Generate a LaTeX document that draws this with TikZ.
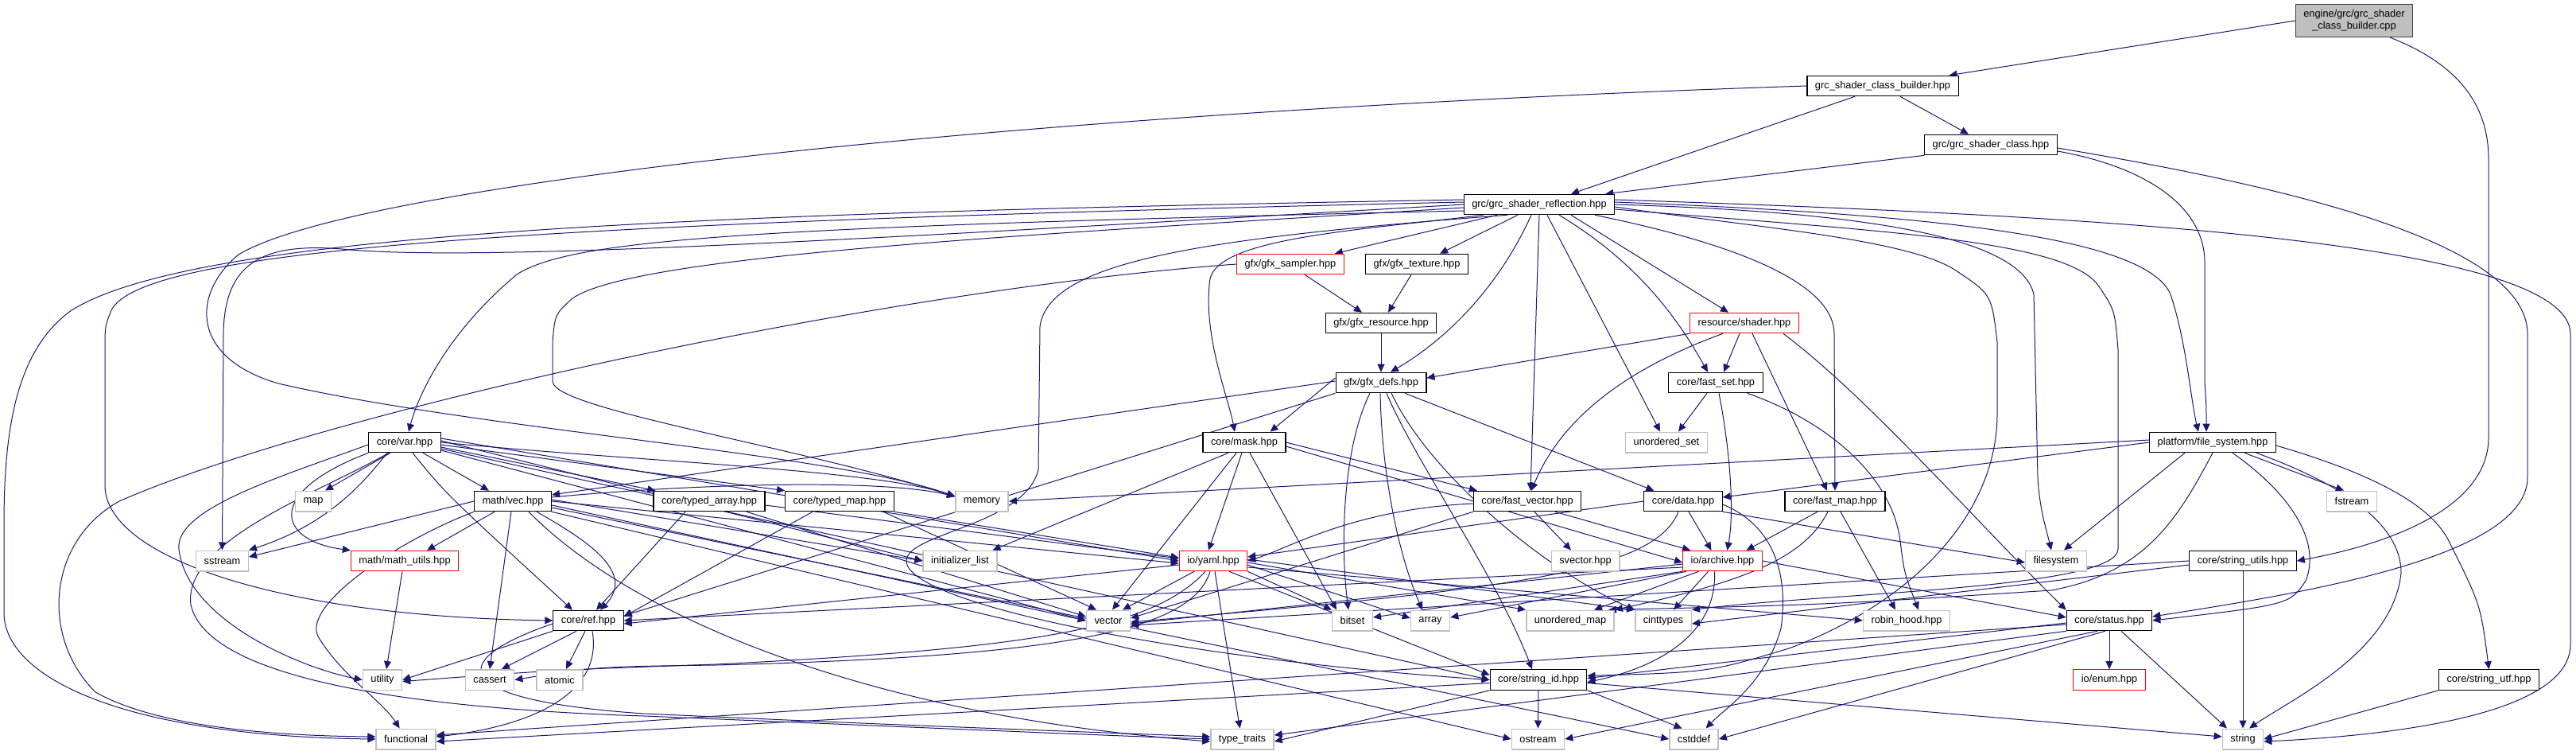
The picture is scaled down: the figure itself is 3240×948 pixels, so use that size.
\documentclass[tikz,border=0pt]{standalone}
\usepackage{fontspec}
\setmainfont{Liberation Sans}
\usetikzlibrary{arrows.meta,backgrounds}
\definecolor{edgec}{HTML}{191970}
\definecolor{greyN}{HTML}{BFBFBF}
\definecolor{truncC}{HTML}{FF0000}
\newcommand\dgfont{\fontsize{12.8}{15}\selectfont}
\begin{document}
\begin{tikzpicture}[x=1pt,y=-1pt,
 nd/.style={draw=black,line width=1.1pt,fill=white,inner xsep=10pt,inner ysep=0pt,minimum height=25.5pt,font=\dgfont},
 sys/.style={nd,draw=greyN,line width=1.5pt},
 trn/.style={nd,draw=truncC},
 e/.style={draw=edgec,line width=1pt,-{Triangle[length=10pt,width=9pt]}}]
\useasboundingbox (0,0) rectangle (3240,948);
% nodes
\node[nd,fill=greyN,draw=black!75,align=center,minimum height=41pt,inner ysep=2pt] (cpp) at (2961,26) {engine/grc/grc\_shader\\\_class\_builder.cpp};
\node[nd] (bhpp) at (2368,108) {grc\_shader\_class\_builder.hpp};
\node[nd] (chpp) at (2504,182) {grc/grc\_shader\_class.hpp};
\node[nd] (refl) at (1936,257) {grc/grc\_shader\_reflection.hpp};
\node[trn] (sampler) at (1623,332) {gfx/gfx\_sampler.hpp};
\node[nd] (texture) at (1782,332) {gfx/gfx\_texture.hpp};
\node[nd] (resource) at (1737,406) {gfx/gfx\_resource.hpp};
\node[trn] (shader) at (2194,406) {resource/shader.hpp};
\node[nd] (defs) at (1737,481) {gfx/gfx\_defs.hpp};
\node[nd] (fastset) at (2158,481) {core/fast\_set.hpp};
\node[nd] (var) at (509,556) {core/var.hpp};
\node[nd] (mask) at (1565,556) {core/mask.hpp};
\node[sys] (uset) at (2096,556) {unordered\_set};
\node[nd] (fs) at (2783,556) {platform/file\_system.hpp};
\node[sys] (map) at (394,630) {map};
\node[nd] (vec) at (645,630) {math/vec.hpp};
\node[nd] (tarr) at (892,630) {core/typed\_array.hpp};
\node[nd] (tmap) at (1056,630) {core/typed\_map.hpp};
\node[sys] (memory) at (1235,630) {memory};
\node[nd] (fvec) at (1921,630) {core/fast\_vector.hpp};
\node[nd] (data) at (2117,630) {core/data.hpp};
\node[nd] (fmap) at (2308,630) {core/fast\_map.hpp};
\node[sys] (fstream) at (2958,630) {fstream};
\node[sys] (sstream) at (279.5,705) {sstream};
\node[trn] (mutils) at (509,705) {math/math\_utils.hpp};
\node[sys] (initl) at (1207.5,705) {initializer\_list};
\node[trn] (yaml) at (1526,705) {io/yaml.hpp};
\node[sys] (svec) at (1994,705) {svector.hpp};
\node[trn] (archive) at (2166.5,705) {io/archive.hpp};
\node[sys] (filesystem) at (2586,705) {filesystem};
\node[nd] (sutils) at (2821,705) {core/string\_utils.hpp};
\node[nd] (ref) at (740,780) {core/ref.hpp};
\node[sys] (vector) at (1394,780) {vector};
\node[sys] (bitset) at (1701,780) {bitset};
\node[sys] (array) at (1799,780) {array};
\node[sys] (umap) at (1975,780) {unordered\_map};
\node[sys] (cinttypes) at (2092,780) {cinttypes};
\node[sys] (robin) at (2398,780) {robin\_hood.hpp};
\node[nd] (status) at (2653,780) {core/status.hpp};
\node[sys] (utility) at (481,854.5) {utility};
\node[sys] (cassert) at (616,854.5) {cassert};
\node[sys] (atomic) at (704,854.5) {atomic};
\node[nd] (sid) at (1935,854.5) {core/string\_id.hpp};
\node[trn] (enum) at (2653,854.5) {io/enum.hpp};
\node[nd] (sutf) at (3130.5,854.5) {core/string\_utf.hpp};
\node[sys] (functional) at (510.6,929) {functional};
\node[sys] (ttraits) at (1562.5,929) {type\_traits};
\node[sys] (ostream) at (1934.5,929) {ostream};
\node[sys] (cstddef) at (2130.5,929) {cstddef};
\node[sys] (string) at (2821,929) {string};
\begin{pgfonlayer}{background}
\fill[white] (0,0) rectangle (3240,948);
% top
\draw[e] (cpp.west) -- ([xshift=-12pt]bhpp.north east);
\draw[e] ([xshift=45pt]cpp.south) .. controls (3090,80) and (3130,130) .. (3130,200) -- (3130,550) .. controls (3130,640) and (3000,685) .. (sutils.east);
\draw[e] ([xshift=22pt]bhpp.south) -- ([xshift=-28pt]chpp.north);
\draw[e] ([xshift=-35pt]bhpp.south) -- ([xshift=40pt]refl.north);
\draw[e] (bhpp.west) .. controls (1300,140) and (450,230) .. (300,320) .. controls (240,370) and (240,450) .. (350,482) .. controls (600,540) and (1050,570) .. ([yshift=6pt]memory.west);
\draw[e] (chpp.south west) -- ([xshift=-12pt]refl.north east);
\draw[e] ([yshift=-8pt]chpp.east) .. controls (2700,210) and (2773,260) .. (2773,330) -- (2773,480) .. controls (2775,510) .. ([xshift=-8pt]fs.north);
\draw[e] ([yshift=-4pt]chpp.east) .. controls (2850,230) and (3179,300) .. (3179,420) -- (3179,600) .. controls (3179,700) and (2900,745) .. ([yshift=5pt]status.east);
% reflection
\draw[e] ([xshift=-53pt]refl.south) -- ([xshift=-12pt]sampler.north east);
\draw[e] ([xshift=-27pt]refl.south) -- ([xshift=29pt]texture.north);
\draw[e] ([xshift=-10pt]refl.south) .. controls (1890,350) and (1830,420) .. ([xshift=12pt]defs.north);
\draw[e] ([xshift=40pt]refl.south) -- ([xshift=-20pt]shader.north);
\draw[e] ([xshift=25pt]refl.south) .. controls (2060,330) and (2110,400) .. ([xshift=-10pt]fastset.north);
\draw[e] ([xshift=10pt]refl.south) -- ([xshift=-8pt]uset.north);
\draw[e] (refl.south) -- ([xshift=4pt]fvec.north);
\draw[e] ([xshift=70pt]refl.south) .. controls (2200,310) and (2307,360) .. (2307,420) -- (fmap.north);
\draw[e] ([xshift=-70pt]refl.south) .. controls (1700,290) and (1535,300) .. (1522,350) .. controls (1512,420) and (1545,500) .. ([xshift=-12pt]mask.north);
\draw[e] ([yshift=-8pt]refl.west) .. controls (950,285) and (720,300) .. (650,345) .. controls (560,420) and (525,500) .. ([xshift=5pt]var.north);
\draw[e] ([yshift=-4pt]refl.west) .. controls (1300,295) and (800,320) .. (720,375) .. controls (698,395) .. (695,430) -- (695,480) .. controls (700,515) and (1000,560) .. ([yshift=6pt]memory.west);
\draw[e] (refl.west) .. controls (1100,300) and (600,330) .. (430,313) .. controls (330,305) and (282,330) .. (281,420) -- (sstream.north);
\draw[e] ([yshift=3pt]refl.west) .. controls (700,280) and (180,310) .. (140,390) .. controls (132,410) .. (132,440) -- (132,610) .. controls (132,700) and (350,775) .. (ref.west);
\draw[e] ([yshift=6pt]refl.west) .. controls (900,268) and (250,290) .. (90,390) .. controls (20,440) and (5,540) .. (5,660) -- (5,770) .. controls (5,850) and (150,925) .. (functional.west);
\draw[e] ([xshift=-40pt]refl.south) .. controls (1500,300) and (1320,330) .. (1308,410) -- (1306,590) .. controls (1290,660) and (1140,670) .. (1140,705) .. controls (1140,760) and (1500,830) .. (sid.west);
\draw[e] ([yshift=3pt]refl.east) .. controls (2450,270) and (2700,300) .. (2730,370) .. controls (2750,430) and (2755,500) .. ([xshift=-18pt]fs.north);
\draw[e] (refl.east) .. controls (2300,265) and (2540,290) .. (2558,370) -- (2563,600) .. controls (2565,640) and (2575,670) .. ([xshift=-6pt]filesystem.north);
\draw[e] ([yshift=6pt]refl.east) .. controls (2600,270) and (3233,300) .. (3233,420) -- (3233,810) .. controls (3233,900) and (3000,925) .. ([yshift=-3pt]string.east);
\draw[e] ([yshift=-3pt]refl.east) .. controls (2200,285) and (2400,300) .. (2460,340) .. controls (2505,370) .. (2512,430) -- (2512,520) .. controls (2512,650) and (2400,760) .. (2250,815) .. controls (2150,845) .. ([yshift=5pt]sid.east);
\draw[e] ([yshift=-6pt]refl.east) .. controls (2350,290) and (2600,300) .. (2640,360) .. controls (2660,390) .. (2664,440) -- (2664,690) .. controls (2664,740) and (2300,745) .. (cinttypes.north east);
% gfx
\draw[e] ([xshift=18pt]sampler.south) -- ([xshift=-24pt]resource.north);
\draw[e] (sampler.west) .. controls (1100,365) and (400,520) .. (150,630) .. controls (60,680) and (50,800) .. (120,870) .. controls (200,915) and (350,925) .. ([yshift=3pt]functional.west);
\draw[e] ([xshift=-7pt]texture.south) -- ([xshift=9pt]resource.north);
\draw[e] (resource.south) -- (defs.north);
\draw[e] (shader.south west) -- ([yshift=6pt]defs.east);
\draw[e] ([xshift=-6pt]shader.south) -- ([xshift=10pt]fastset.north);
\draw[e] ([xshift=-27pt]shader.south) .. controls (2000,480) and (1950,560) .. ([xshift=5pt]fvec.north);
\draw[e] ([xshift=10pt]shader.south) -- ([xshift=-10pt]fmap.north);
\draw[e] ([xshift=-20pt]shader.south east) .. controls (2350,500) and (2480,650) .. (status.north west);
\draw[e] ([yshift=6pt]defs.west) -- ([xshift=-20pt]mask.north east);
\draw[e] ([yshift=2pt]defs.west) -- ([yshift=8pt]vec.east);
\draw[e] (defs.south west) -- ([yshift=6pt]ref.east);
\draw[e] ([xshift=30pt]defs.south) -- ([xshift=13pt]data.north west);
\draw[e] ([xshift=-14pt]defs.south) .. controls (1690,560) and (1685,680) .. ([xshift=-5pt]bitset.north);
\draw[e] ([xshift=-1pt]defs.south) .. controls (1738,600) and (1760,700) .. ([xshift=-10pt]array.north);
\draw[e] ([xshift=7pt]defs.south) .. controls (1780,580) and (1880,720) .. ([xshift=-8pt]sid.north);
\draw[e] ([xshift=13pt]defs.south) .. controls (1800,600) and (1950,720) .. (cinttypes.north west);
% fast set / map / vector / data
\draw[e] ([xshift=-11pt]fastset.south) -- ([xshift=15pt]uset.north);
\draw[e] ([xshift=4pt]fastset.south) .. controls (2175,560) and (2182,640) .. ([xshift=6pt]archive.north);
\draw[e] ([xshift=-20pt]fastset.south east) .. controls (2300,530) and (2380,600) .. (2390,680) .. controls (2395,720) .. ([xshift=15pt]robin.north);
\draw[e] ([xshift=-22pt]fmap.south) -- ([xshift=30pt]archive.north);
\draw[e] ([xshift=-9pt]fmap.south) .. controls (2270,700) and (2200,730) .. (umap.north east);
\draw[e] ([xshift=7pt]fmap.south) -- ([xshift=-14pt]robin.north);
\draw[e] ([xshift=9pt]fvec.south) -- ([xshift=-18pt]svec.north);
\draw[e] ([xshift=35pt]fvec.south) -- ([xshift=10pt]archive.north west);
\draw[e] ([yshift=-3pt]fvec.west) .. controls (1700,640) and (1620,690) .. (yaml.east);
\draw[e] (fvec.south west) -- ([yshift=3pt]vector.east);
\draw[e] (data.west) -- ([yshift=5pt]yaml.east);
\draw[e] ([xshift=7pt]data.south) -- ([xshift=-14pt]archive.north);
\draw[e] (data.south east) -- ([yshift=-2pt]filesystem.west);
\draw[e] ([xshift=-6pt]data.south) .. controls (2080,720) and (1900,740) .. ([yshift=-2pt]vector.east);
\draw[e] ([yshift=-4pt]data.east) .. controls (2230,660) and (2250,720) .. (2240,790) .. controls (2220,860) and (2170,890) .. ([xshift=15pt]cstddef.north);
% mask
\draw[e] ([xshift=-20pt]mask.south) -- ([xshift=-6pt]initl.north east);
\draw[e] ([xshift=-10pt]mask.south) -- ([xshift=5pt]vector.north);
\draw[e] ([xshift=-3pt]mask.south) -- ([xshift=-6pt]yaml.north);
\draw[e] ([xshift=7pt]mask.south) -- ([xshift=-20pt]bitset.north);
\draw[e] (mask.east) -- ([xshift=5pt]fvec.north west);
\draw[e] ([yshift=-5pt]mask.east) -- ([yshift=-2pt]archive.west);
% var
\draw[e] ([xshift=-18pt]var.south) -- ([xshift=15pt]map.north);
\draw[e] ([xshift=23pt]var.south) -- ([xshift=-30pt]vec.north);
\draw[e] ([yshift=-6pt]var.east) -- ([xshift=3pt]tarr.north west);
\draw[e] ([yshift=-3pt]var.east) -- (tmap.north west);
\draw[e] (var.east) .. controls (800,580) and (1100,590) .. ([yshift=6pt]memory.west);
\draw[e] ([xshift=-22pt]var.south) .. controls (455,610) and (410,660) .. (sstream.north east);
\draw[e] (var.south west) .. controls (330,620) and (350,680) .. (mutils.north west);
\draw[e] ([xshift=10pt]var.south) .. controls (560,620) .. ([xshift=-20pt]ref.north);
\draw[e] ([yshift=-8pt]var.east) -- (sid.west);
\draw[e] ([yshift=5pt]var.east) -- (yaml.west);
\draw[e] ([yshift=-10pt]var.east) -- (vector.west);
\draw[e] ([yshift=2pt]var.east) -- (initl.west);
\draw[e] ([yshift=-3pt]var.west) .. controls (350,600) and (220,640) .. (225,690) .. controls (235,780) and (380,840) .. (utility.west);
\draw[e] ([xshift=-20pt]var.south) .. controls (400,620) and (230,680) .. (240,760) .. controls (260,850) and (500,890) .. (810,900) .. controls (1100,912) and (1400,925) .. (ttraits.west);
% vec
\draw[e] (vec.west) -- ([yshift=5pt]sstream.east);
\draw[e] ([xshift=-23pt]vec.south) -- ([xshift=28pt]mutils.north);
\draw[e] ([xshift=-2pt]vec.south) -- (cassert.north);
\draw[e] (vec.south west) .. controls (500,680) and (380,760) .. (400,800) .. controls (430,850) and (480,880) .. ([xshift=-8pt]functional.north);
\draw[e] (vec.east) -- ([yshift=-3pt]yaml.west);
\draw[e] ([yshift=-5pt]vec.east) -- (vector.west);
\draw[e] ([yshift=2pt]vec.east) -- (initl.west);
\draw[e] ([yshift=5pt]vec.east) .. controls (850,610) and (1100,600) .. ([yshift=6pt]memory.west);
\draw[e] ([xshift=30pt]vec.south) .. controls (740,680) and (800,720) .. ([xshift=15pt]ref.north);
\draw[e] ([xshift=20pt]vec.south) .. controls (800,780) and (1100,900) .. ([yshift=-3pt]ttraits.west);
\draw[e] (vec.south east) -- (ostream.west);
\draw[e] ([yshift=-8pt]vec.east) -- (cstddef.west);
% typed
\draw[e] ([xshift=-30pt]tarr.south) -- ([xshift=10pt]ref.north);
\draw[e] ([yshift=-5pt]tarr.east) -- ([yshift=3pt]yaml.west);
\draw[e] ([xshift=47pt]tarr.south) -- ([yshift=5pt]vector.west);
\draw[e] ([xshift=-34pt]tmap.south) -- ([yshift=5pt]ref.east);
\draw[e] (tmap.south east) -- ([yshift=4pt]yaml.west);
\draw[e] ([xshift=55pt]tmap.south) -- ([xshift=-15pt]vector.north);
\draw[e] ([xshift=-3pt]mutils.south) -- ([xshift=5pt]utility.north);
% yaml
\draw[e] ([yshift=-5pt]yaml.west) -- ([yshift=-4pt]ref.east);
\draw[e] ([xshift=-24pt]yaml.south) -- ([xshift=18pt]vector.north);
\draw[e] ([xshift=-10pt]yaml.south) .. controls (1450,790) and (1300,815) .. (900,835) .. controls (700,842) .. ([yshift=-2pt]utility.east);
\draw[e] ([xshift=-4pt]yaml.south) .. controls (1500,790) and (1350,825) .. (900,836) .. controls (750,838) .. (cassert.east);
\draw[e] ([xshift=2pt]yaml.south) -- ([xshift=-3pt]ttraits.north);
\draw[e] (yaml.south east) -- (bitset.north west);
\draw[e] ([yshift=-5pt]yaml.east) -- ([yshift=3pt]array.west);
\draw[e] ([yshift=-2pt]yaml.east) -- (umap.north west);
\draw[e] ([yshift=2pt]yaml.east) -- (cinttypes.north west);
\draw[e] ([xshift=20pt]yaml.south) -- ([yshift=6pt]sid.west);
\draw[e] ([yshift=-8pt]yaml.east) -- (robin.west);
% archive
\draw[e] ([yshift=-8pt]archive.west) -- (ref.east);
\draw[e] ([yshift=-4pt]archive.west) -- ([yshift=-4pt]vector.east);
\draw[e] (archive.south west) -- ([yshift=4pt]bitset.east);
\draw[e] ([xshift=5pt]archive.south west) -- ([yshift=4pt]array.east);
\draw[e] ([xshift=-30pt]archive.south) -- ([xshift=30pt]umap.north);
\draw[e] ([xshift=-18pt]archive.south) -- ([xshift=13pt]cinttypes.north);
\draw[e] ([xshift=-10pt]archive.south) .. controls (2160,800) and (2080,840) .. ([yshift=-3pt]sid.east);
\draw[e] (archive.east) -- ([yshift=4pt]status.west);
% status
\draw[e] (status.south) -- (enum.north);
\draw[e] ([xshift=15pt]status.south) -- ([xshift=-20pt]string.north);
\draw[e] ([yshift=-3pt]status.west) -- ([yshift=2pt]sid.east);
\draw[e] ([yshift=-5pt]status.west) -- ([yshift=5pt]functional.east);
\draw[e] (status.south west) -- ([yshift=5pt]ttraits.east);
\draw[e] ([xshift=-15pt]status.south) -- (ostream.east);
\draw[e] ([xshift=-5pt]status.south) -- (cstddef.east);
% string utils, file system
\draw[e] (sutils.south) -- (string.north);
\draw[e] (sutils.west) -- ([yshift=-6pt]vector.east);
\draw[e] ([yshift=-5pt]sutils.west) -- ([yshift=-4pt]cinttypes.east);
\draw[e] ([yshift=3pt]fs.west) -- (memory.east);
\draw[e] (fs.west) -- ([yshift=5pt]data.east);
\draw[e] ([xshift=-35pt]fs.south) -- ([xshift=10pt]filesystem.north);
\draw[e] ([xshift=40pt]fs.south) -- ([xshift=-10pt]fstream.north);
\draw[e] ([xshift=-25pt]fs.south east) .. controls (2950,610) and (3020,660) .. (3020,720) .. controls (3010,820) and (2880,880) .. ([xshift=8pt]string.north);
\draw[e] ([yshift=-4pt]fs.east) .. controls (3000,600) and (3060,640) .. (3080,680) .. controls (3120,760) .. (sutf.north);
\draw[e] ([xshift=25pt]fs.south) .. controls (2880,620) and (2920,680) .. (2900,730) .. controls (2880,760) .. (status.east);
\draw[e] (fs.south) .. controls (2740,650) and (2700,720) .. (2580,742) .. controls (2300,760) .. ([xshift=-8pt]umap.north east);
\draw[e] (sutf.south west) -- (string.east);
% ref
\draw[e] (ref.south west) -- (utility.east);
\draw[e] ([xshift=-15pt]ref.south) -- ([xshift=15pt]cassert.north);
\draw[e] ([xshift=-4pt]ref.south) -- ([xshift=8pt]atomic.north);
\draw[e] ([xshift=5pt]ref.south) .. controls (760,880) and (650,915) .. ([yshift=3pt]functional.east);
\draw[e] ([yshift=-4pt]ref.west) .. controls (560,830) and (560,880) .. (810,897) .. controls (1100,910) .. ([yshift=3pt]ttraits.west);
% string id
\draw[e] (sid.south) -- (ostream.north);
\draw[e] (sid.south east) -- ([xshift=-15pt]cstddef.north);
\draw[e] ([yshift=-4pt]sid.east) -- ([yshift=3pt]string.west);
\draw[e] ([yshift=-4pt]sid.west) -- ([yshift=-3pt]functional.east);
\draw[e] (sid.south west) -- ([yshift=-3pt]ttraits.east);
\end{pgfonlayer}
\end{tikzpicture}
\end{document}
